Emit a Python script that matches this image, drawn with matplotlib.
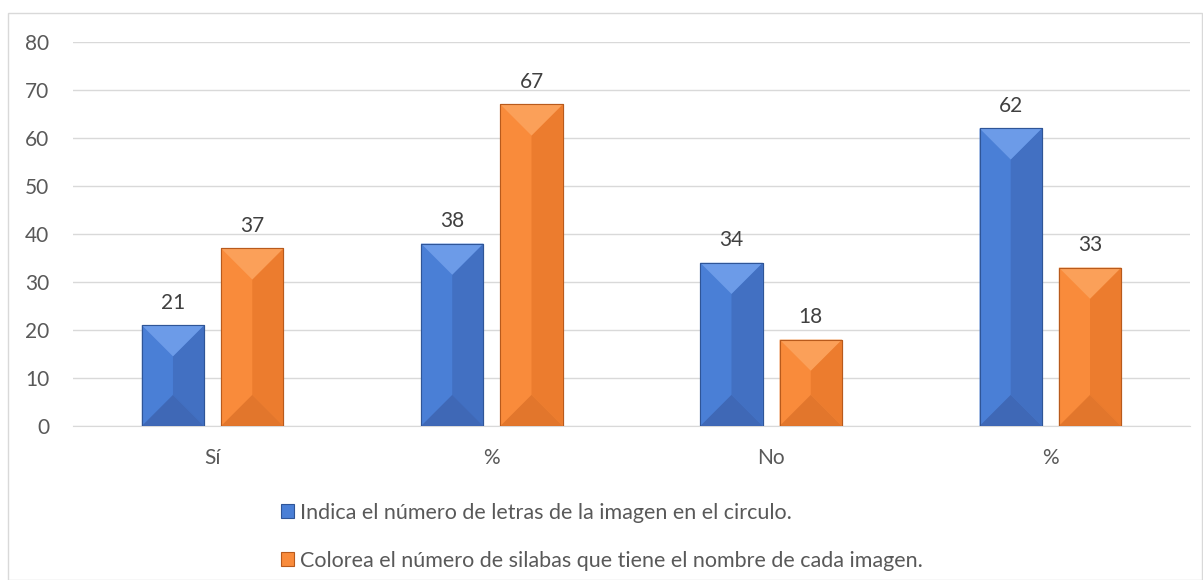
import matplotlib
matplotlib.use("Agg")
import matplotlib.pyplot as plt
from matplotlib.patches import Polygon, Rectangle
import numpy as np

categories = ["Sí", "%", "No", "%"]
series_names = [
    "Indica el número de letras de la imagen en el circulo.",
    "Colorea el número de silabas que tiene el nombre de cada imagen.",
]
letras = [21, 38, 34, 62]
silabas = [37, 67, 18, 33]

plt.rcParams["font.family"] = ["Lato", "DejaVu Sans"]

W, H = 1203, 580
fig = plt.figure(figsize=(W / 100, H / 100), dpi=100)
ax = fig.add_axes([73 / W, 1 - 426 / H, (1190 - 73) / W, (426 - 42) / H])

# outer chart border
fig.patches.append(Rectangle((8 / W, 0), (W - 9) / W, 1 - 13 / H, transform=fig.transFigure,
                             fill=False, edgecolor="#d9d9d9", linewidth=1))

x = np.arange(len(categories))
width = 0.223
offset = 0.142
ax.set_xlim(-0.5, len(categories) - 0.5)
ax.set_ylim(0, 80)

# bevel shading: (left, right, top, bottom, edge)
shades = {
    "blue": ("#4a7fd6", "#4270c2", "#6c9be8", "#3f68b6", "#2f5597"),
    "orange": ("#f98b3b", "#ec7c2e", "#fba059", "#e2762c", "#b85a1c"),
}

ax_w_px = (1190 - 73)
ax_h_px = (426 - 42)
px_per_x = ax_w_px / (len(categories))
px_per_y = ax_h_px / 80


def bevel_bars(xs, vals, key):
    left_c, right_c, top_c, bot_c, edge_c = shades[key]
    bars = ax.bar(xs, vals, width, color=left_c, edgecolor=edge_c, linewidth=0.8, zorder=2)
    for b in bars:
        x0, y0 = b.get_x(), b.get_y()
        x1, y1 = x0 + b.get_width(), y0 + b.get_height()
        xc = (x0 + x1) / 2
        d = (b.get_width() * px_per_x / 2) / px_per_y
        d = min(d, (y1 - y0) / 2)
        polys = [
            ([(x0, y0), (x0, y1), (xc, y1 - d), (xc, y0 + d)], left_c),
            ([(x1, y0), (x1, y1), (xc, y1 - d), (xc, y0 + d)], right_c),
            ([(x0, y1), (x1, y1), (xc, y1 - d)], top_c),
            ([(x0, y0), (x1, y0), (xc, y0 + d)], bot_c),
        ]
        for pts, c in polys:
            ax.add_patch(Polygon(pts, closed=True, facecolor=c, edgecolor="none", zorder=3))
        ax.add_patch(Rectangle((x0, y0), x1 - x0, y1 - y0, fill=False, edgecolor=edge_c,
                               linewidth=0.8, zorder=4))
        ax.annotate(f"{int(y1)}", (xc, y1), xytext=(0, 9), textcoords="offset points",
                    ha="center", va="bottom", fontsize=15, color="#404040")
    return bars


b1 = bevel_bars(x - offset, letras, "blue")
b2 = bevel_bars(x + offset, silabas, "orange")

ax.set_yticks(range(0, 81, 10))
ax.set_xticks(x)
ax.set_xticklabels(categories)
ax.tick_params(axis="both", length=0, labelsize=15, labelcolor="#595959")
ax.tick_params(axis="x", pad=16)
ax.tick_params(axis="y", pad=17)
ax.yaxis.grid(True, color="#d9d9d9", linewidth=1)
ax.set_axisbelow(True)
for s in ["top", "right", "left"]:
    ax.spines[s].set_visible(False)
ax.spines["bottom"].set_color("#d9d9d9")

leg = fig.legend([b1, b2], series_names, loc="upper left",
                 bbox_to_anchor=(272 / W, 1 - 494 / H), frameon=False, fontsize=15.5,
                 labelcolor="#595959", handlelength=0.6, handleheight=0.6,
                 handletextpad=0.3, labelspacing=1.3, borderaxespad=0)

fig.savefig("out.png", dpi=100)
